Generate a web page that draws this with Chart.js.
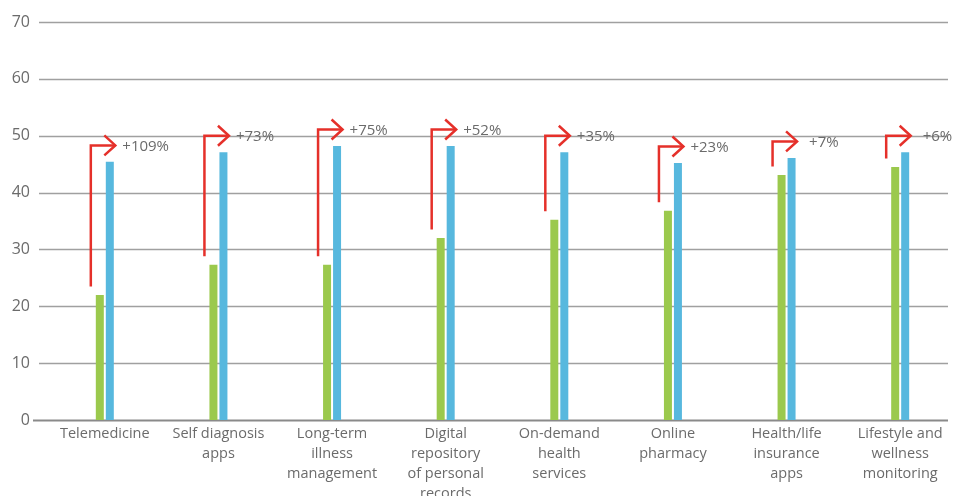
<!DOCTYPE html>
<html>
<head>
<meta charset="utf-8">
<script src="https://cdn.jsdelivr.net/npm/chart.js@4/dist/chart.umd.min.js"></script>
<style>
  html, body { margin: 0; padding: 0; background: #fff; }
  #wrap { width: 957px; height: 496px; position: relative; }
</style>
</head>
<body>
<div id="wrap"><canvas id="c"></canvas></div>
<script>
// カテゴリ(複数行ラベル)
const categories = [
  ['Telemedicine'],
  ['Self diagnosis', 'apps'],
  ['Long-term', 'illness', 'management'],
  ['Digital', 'repository', 'of personal', 'records'],
  ['On-demand', 'health', 'services'],
  ['Online', 'pharmacy'],
  ['Health/life', 'insurance', 'apps'],
  ['Lifestyle and', 'wellness', 'monitoring']
];
// 系列
const beforeValues = [22.0, 27.3, 27.3, 32.0, 35.2, 36.8, 43.1, 44.5];
const afterValues  = [45.4, 47.1, 48.2, 48.2, 47.1, 45.2, 46.1, 47.1];
// 矢印横の増加率ラベル
const growthLabels = ['+109%', '+73%', '+75%', '+52%', '+35%', '+23%', '+7%', '+6%'];
const yTicks = [0, 10, 20, 30, 40, 50, 60, 70];

const GREEN = '#9bc94d';
const BLUE = '#57b8de';
const RED = '#e5302a';
const TEXT = '#6b6b6b';
const FONT = '"Open Sans", sans-serif';

// 横の目盛線(描画領域より左にはみ出す)と、増加を示す赤い矢印
const decorPlugin = {
  id: 'decor',
  beforeDatasetsDraw(chart) {
    const ctx = chart.ctx, y = chart.scales.y;
    ctx.save();
    for (const v of yTicks) {
      const py = Math.round(y.getPixelForValue(v)) + 0.5;
      ctx.strokeStyle = v === 0 ? '#8a8a8a' : '#a0a0a0';
      ctx.lineWidth = v === 0 ? 2 : 1.5;
      ctx.beginPath();
      ctx.moveTo(v === 0 ? 33 : 39, py);
      ctx.lineTo(948, py);
      ctx.stroke();
    }
    ctx.restore();
  },
  afterDatasetsDraw(chart) {
    const ctx = chart.ctx, x = chart.scales.x, y = chart.scales.y;
    ctx.save();
    ctx.strokeStyle = RED;
    ctx.lineWidth = 2.5;
    ctx.font = '15px ' + FONT;
    ctx.textBaseline = 'middle';
    ctx.textAlign = 'left';
    for (let i = 0; i < categories.length; i++) {
      const cx = x.getPixelForValue(i);
      const vx = cx - 14;
      const tip = cx + 10.5;
      const y1 = y.getPixelForValue(beforeValues[i] + 1.5);
      const y2 = y.getPixelForValue(afterValues[i] + 2.9);
      ctx.beginPath();
      ctx.moveTo(vx, y1);
      ctx.lineTo(vx, y2);
      ctx.lineTo(tip, y2);
      ctx.stroke();
      ctx.beginPath();
      ctx.moveTo(tip - 11, y2 - 10);
      ctx.lineTo(tip, y2);
      ctx.lineTo(tip - 11, y2 + 10);
      ctx.stroke();
      ctx.fillStyle = TEXT;
      ctx.fillText(growthLabels[i], tip + (i >= 6 ? 12 : 7), y2 + 1);
    }
    ctx.restore();
  }
};

new Chart(document.getElementById('c'), {
  type: 'bar',
  data: {
    labels: categories,
    datasets: [
      { data: beforeValues, backgroundColor: GREEN },
      { data: afterValues, backgroundColor: BLUE }
    ]
  },
  plugins: [decorPlugin],
  options: {
    responsive: true,
    maintainAspectRatio: false,
    animation: false,
    categoryPercentage: 0.176,
    barPercentage: 0.8,
    layout: { padding: { top: 22, left: 0, right: 0, bottom: 0 } },
    scales: {
      x: {
        grid: { display: false, drawTicks: false },
        border: { display: false },
        ticks: {
          color: TEXT, padding: 4, maxRotation: 0, autoSkip: false,
          font: { family: FONT, size: 14.5, lineHeight: 1.38 }
        },
        afterFit(s) { s.height = 76; s.paddingLeft = 0; s.paddingRight = 0; }
      },
      y: {
        min: 0, max: 70,
        grid: { display: false, drawTicks: false },
        border: { display: false },
        ticks: {
          stepSize: 10, color: TEXT, padding: 18,
          font: { family: FONT, size: 16 }
        },
        afterFit(s) { s.width = 48; s.paddingTop = 0; s.paddingBottom = 0; }
      }
    },
    plugins: {
      legend: { display: false },
      tooltip: { enabled: false }
    }
  }
});
</script>
</body>
</html>
